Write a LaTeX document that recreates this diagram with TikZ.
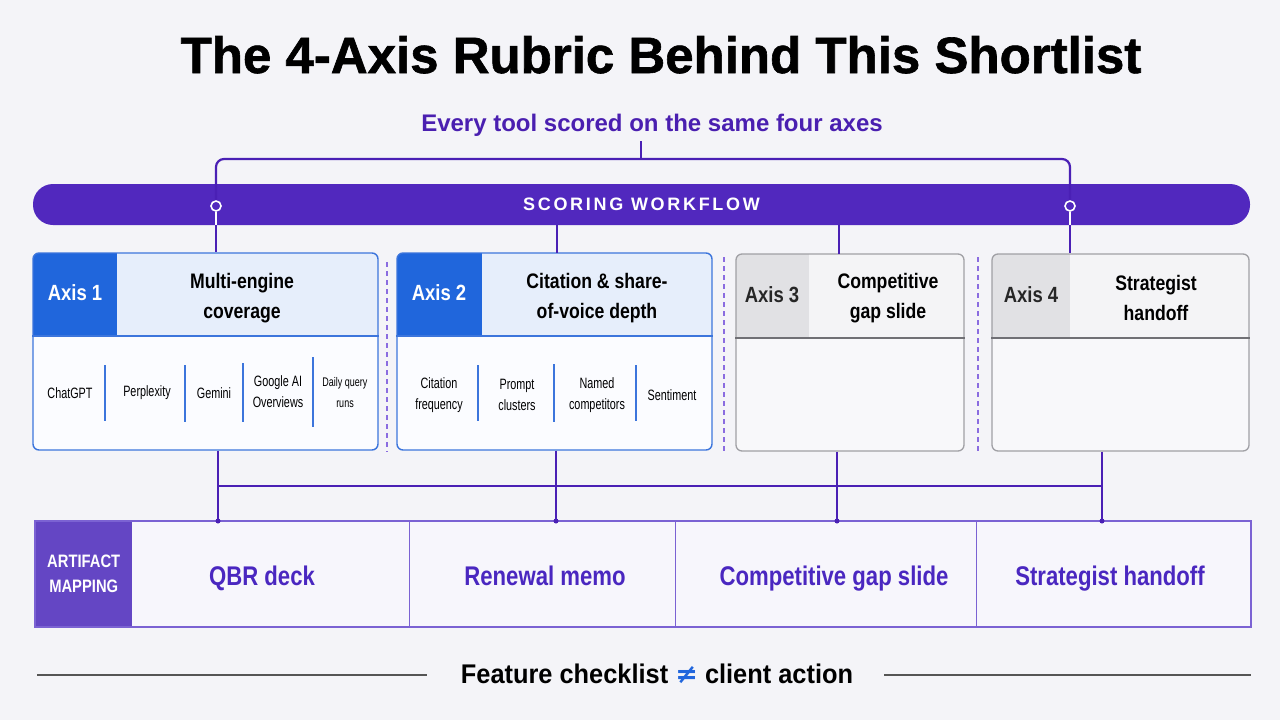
\documentclass[tikz,border=0pt]{standalone}
\usepackage{fontspec}
\setmainfont{Liberation Sans}
\newfontfamily\titlef{Liberation Sans}[BoldFeatures={FakeBold=1.2}]
\newfontfamily\condf{Liberation Sans}[FakeStretch=0.84]
\newfontfamily\footf{Liberation Sans}[FakeStretch=0.94]
\newfontfamily\itemf{Liberation Sans}[FakeStretch=0.72]
\newfontfamily\rowf{Liberation Sans}[FakeStretch=0.82]
\newfontfamily\spacedf{Liberation Sans}[LetterSpace=15]
\definecolor{bg}{HTML}{F4F4F8}
\definecolor{purp}{HTML}{5128BE}
\definecolor{linep}{HTML}{4A20B5}
\definecolor{subtxt}{HTML}{4A1FB0}
\definecolor{axisblue}{HTML}{2066DC}
\definecolor{lblue}{HTML}{E6EEFB}
\definecolor{bborder}{HTML}{3C75DC}
\definecolor{bodyw}{HTML}{FBFCFF}
\definecolor{gborder}{HTML}{A0A0A5}
\definecolor{glabel}{HTML}{E1E1E4}
\definecolor{ghead}{HTML}{F4F4F6}
\definecolor{gdiv}{HTML}{707075}
\definecolor{gbody}{HTML}{F8F8FA}
\definecolor{rowborder}{HTML}{7B62D3}
\definecolor{rowlab}{HTML}{6446C4}
\definecolor{rowtxt}{HTML}{4A27C0}
\definecolor{rowfill}{HTML}{F7F6FC}
\definecolor{neqc}{HTML}{2166DD}
\definecolor{footl}{HTML}{555555}
\definecolor{dashc}{HTML}{8A6CE0}
\tikzset{
  conn/.style={draw=linep, line width=2.2pt},
  ring/.style={circle, draw=white, line width=1.6pt, fill=purp, minimum size=10pt, inner sep=0pt},
  enddot/.style={circle, fill=linep, minimum size=5pt, inner sep=0pt},
  axlab/.style={font=\condf\bfseries\fontsize{22}{26}\selectfont, inner sep=0pt},
  axtit/.style={font=\condf\bfseries\fontsize{21}{30}\selectfont, align=center, inner sep=0pt, text=black},
  itemtx/.style={font=\itemf\fontsize{15}{21}\selectfont, align=center, inner sep=0pt, text=black},
  smallitem/.style={font=\itemf\fontsize{12.5}{21}\selectfont, align=center, inner sep=0pt, text=black},
  bsep/.style={draw=bborder, line width=1.1pt},
  dashsep/.style={draw=dashc, line width=1.2pt, dash pattern=on 5pt off 4pt},
  rowtext/.style={font=\rowf\bfseries\fontsize{27}{30}\selectfont, text=rowtxt, inner sep=0pt, anchor=base},
  bluebox/.style={draw=bborder, line width=1.4pt, rounded corners=6pt, inner sep=0pt},
  graybox/.style={draw=gborder, line width=1.3pt, rounded corners=6pt, inner sep=0pt},
}
\begin{document}
\begin{tikzpicture}[x=1pt,y=-1pt]
\fill[bg] (0,0) rectangle (1280,720);
\useasboundingbox (0,0) rectangle (1280,720);

% title and subtitle
\node[font=\titlef\bfseries\fontsize{51}{56}\selectfont, anchor=base, inner sep=0pt] (title) at (661,73) {The 4-Axis Rubric Behind This Shortlist};
\node[font=\bfseries\fontsize{24}{28}\selectfont, text=subtxt, anchor=base, inner sep=0pt] (sub) at (652,131) {Every tool scored on the same four axes};

% scoring bar
\node[fill=purp, rounded corners=20pt, minimum width=1217pt, minimum height=41pt, inner sep=0pt,
      font=\spacedf\bfseries\fontsize{18}{20}\selectfont, text=white] (bar) at (641.5,204.5) {SCORING WORKFLOW};
\node[ring] (r1) at (216,206) {};
\node[ring] (r4) at (1070,206) {};
\coordinate (brc) at (641,159);
\draw[conn] (sub.south -| brc) ++(0,5) -- (brc);
\draw[conn, rounded corners=8pt] (r1.north) |- (brc) -| (r4.north);

% ---- box 1
\begin{scope}
\clip[rounded corners=6pt] (33,253) rectangle (378,450);
\fill[bodyw] (33,253) rectangle (378,450);
\fill[lblue] (117,253) rectangle (378,336);
\fill[axisblue] (33,253) rectangle (117,336);
\end{scope}
\node[bluebox, minimum width=345pt, minimum height=197pt] (b1) at (205.5,351.5) {};
\draw[bborder, line width=1.2pt] (b1.west |- 0,336) -- (b1.east |- 0,336);
\node[axlab, text=white] (a1) at (75,293) {Axis 1};
\node[axtit] (t1) at (242,298) {Multi-engine\\coverage};
\node[itemtx] (i11) at (70,393) {ChatGPT};
\node[itemtx] (i12) at (147,393) {Perplexity};
\node[itemtx] (i13) at (214,393) {Gemini};
\node[itemtx] (i14) at (278,392) {Google AI\\Overviews};
\node[smallitem] (i15) at (345,393) {Daily query\\runs};
\draw[bsep] (105,365) -- (105,421);
\draw[bsep] (185,365) -- (185,422);
\draw[bsep] (243,363) -- (243,422);
\draw[bsep] (313,357) -- (313,427);

% ---- box 2
\begin{scope}
\clip[rounded corners=6pt] (397,253) rectangle (712,450);
\fill[bodyw] (397,253) rectangle (712,450);
\fill[lblue] (482,253) rectangle (712,336);
\fill[axisblue] (397,253) rectangle (482,336);
\end{scope}
\node[bluebox, minimum width=315pt, minimum height=197pt] (b2) at (554.5,351.5) {};
\draw[bborder, line width=1.2pt] (b2.west |- 0,336) -- (b2.east |- 0,336);
\node[axlab, text=white] (a2) at (439,293) {Axis 2};
\node[axtit] (t2) at (597,298) {Citation \& share-\\of-voice depth};
\node[itemtx] (i21) at (439,395) {Citation\\frequency};
\node[itemtx] (i22) at (517,395) {Prompt\\clusters};
\node[itemtx] (i23) at (597,395) {Named\\competitors};
\node[itemtx] (i24) at (672,395) {Sentiment};
\draw[bsep] (478,365) -- (478,421);
\draw[bsep] (554,364) -- (554,422);
\draw[bsep] (636,365) -- (636,421);

% ---- box 3
\begin{scope}
\clip[rounded corners=6pt] (736,254) rectangle (964,451);
\fill[gbody] (736,254) rectangle (964,451);
\fill[ghead] (809,254) rectangle (964,338);
\fill[glabel] (736,254) rectangle (809,338);
\end{scope}
\node[graybox, minimum width=228pt, minimum height=197pt] (b3) at (850,352.5) {};
\draw[gdiv, line width=1.3pt] (b3.west |- 0,338) -- (b3.east |- 0,338);
\node[axlab, text=black!85] (a3) at (772,295) {Axis 3};
\node[axtit] (t3) at (888,298) {Competitive\\gap slide};

% ---- box 4
\begin{scope}
\clip[rounded corners=6pt] (992,254) rectangle (1249,451);
\fill[gbody] (992,254) rectangle (1249,451);
\fill[ghead] (1070,254) rectangle (1249,338);
\fill[glabel] (992,254) rectangle (1070,338);
\end{scope}
\node[graybox, minimum width=257pt, minimum height=197pt] (b4) at (1120.5,352.5) {};
\draw[gdiv, line width=1.3pt] (b4.west |- 0,338) -- (b4.east |- 0,338);
\node[axlab, text=black!85] (a4) at (1031,295) {Axis 4};
\node[axtit] (t4) at (1156,298) {Strategist\\handoff};

% dashed separators
\draw[dashsep] (387,262) -- (387,452);
\draw[dashsep] (724,257) -- (724,452);
\draw[dashsep] (978,257) -- (978,452);

% connectors bar -> boxes
\draw[draw=white, line width=1.8pt] (r1.south) -- (r1.south |- bar.south);
\draw[draw=white, line width=1.8pt] (r4.south) -- (r4.south |- bar.south);
\draw[conn] (r1.south |- bar.south) -- (r1 |- b1.north);
\draw[conn] (bar.south -| 557,0) -- (557,253);
\coordinate (b3t) at (839,254);
\draw[conn] (bar.south -| b3t) -- (b3t);
\draw[conn] (r4.south |- bar.south) -- (r4 |- b4.north);

% artifact row
\fill[rowfill] (35,521) rectangle (1251,627);
\node[fill=rowlab, minimum width=97pt, minimum height=106pt, inner sep=0pt, anchor=north west,
      font=\rowf\bfseries\fontsize{18}{25}\selectfont, text=white, align=center] (rl) at (35,521) {ARTIFACT\\MAPPING};
\draw[rowborder, line width=1.2pt] (35,521) rectangle (1251,627);
\draw[rowborder, line width=1pt] (409,521) -- (409,627);
\draw[rowborder, line width=1pt] (675,521) -- (675,627);
\draw[rowborder, line width=1pt] (976,521) -- (976,627);
\node[rowtext] (c1) at (262,585) {QBR deck};
\node[rowtext] (c2) at (545,585) {Renewal memo};
\node[rowtext] (c3) at (834,585) {Competitive gap slide};
\node[rowtext] (c4) at (1110,585) {Strategist handoff};
\coordinate (d1) at (218,521);
\coordinate (d2) at (556,521);
\coordinate (d3) at (837,521);
\coordinate (d4) at (1102,521);

% connectors boxes -> artifacts
\draw[conn] (b1.south -| d1) -- (d1);
\draw[conn] (b2.south -| d2) -- (d2);
\draw[conn] (b3.south -| d3) -- (d3);
\draw[conn] (b4.south -| d4) -- (d4);
\draw[conn] (218,486) -- (1102,486);
\node[enddot] at (d1) {};
\node[enddot] at (d2) {};
\node[enddot] at (d3) {};
\node[enddot] at (d4) {};

% footer
\node[font=\footf\bfseries\fontsize{27}{30}\selectfont, anchor=base, inner sep=0pt] (foot) at (657,683)
  {Feature checklist {\color{neqc}\fontspec{DejaVu Sans}\bfseries ≠} client action};
\coordinate (fl1) at (37,675);
\coordinate (fr2) at (1251,675);
\draw[footl, line width=1.8pt] (fl1) -- (427,675);
\draw[footl, line width=1.8pt] (884,675) -- (fr2);
\end{tikzpicture}
\end{document}
